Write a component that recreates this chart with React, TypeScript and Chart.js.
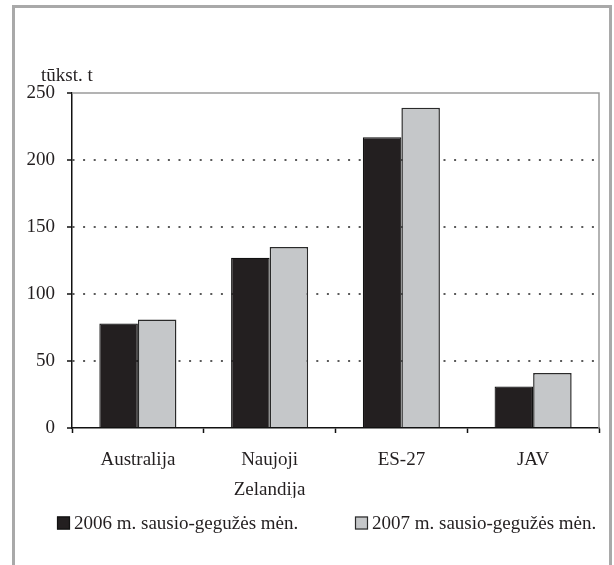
import React, { useEffect, useRef } from "react";
import { Chart, registerables } from "chart.js";

Chart.register(...registerables);

const categories: (string | string[])[] = ["Australija", ["Naujoji", "Zelandija"], "ES-27", "JAV"];
const series2006Label = "2006 m. sausio-gegužės mėn.";
const series2007Label = "2007 m. sausio-gegužės mėn.";
const values2006 = [78, 127, 217, 31];
const values2007 = [81, 135, 239, 41];
const yUnit = "tūkst. t";
const yMin = 0;
const yMax = 250;
const yStep = 50;

const FONT = "'Liberation Serif', 'Times New Roman', serif";
const TEXT = "#231f20";

const framePlugin = {
  id: "frame",
  beforeDatasetsDraw(chart: any) {
    const { ctx, chartArea } = chart;
    ctx.save();
    ctx.strokeStyle = "#9a9a9a";
    ctx.lineWidth = 1.5;
    ctx.beginPath();
    ctx.moveTo(chartArea.left, chartArea.top);
    ctx.lineTo(chartArea.right, chartArea.top);
    ctx.lineTo(chartArea.right, chartArea.bottom);
    ctx.stroke();
    ctx.restore();
  },
  afterDraw(chart: any) {
    const { ctx } = chart;
    ctx.save();
    ctx.font = `19px ${FONT}`;
    ctx.fillStyle = TEXT;
    ctx.textBaseline = "middle";
    ctx.textAlign = "left";
    ctx.fillText(yUnit, 41, 76);
    // legend
    const pos = [57, 355];
    chart.data.datasets.forEach((ds: any, i: number) => {
      const x = pos[i];
      const y = 523;
      ctx.fillStyle = ds.backgroundColor;
      ctx.fillRect(x, y - 6.5, 13, 13);
      ctx.strokeStyle = ds.borderColor;
      ctx.lineWidth = 1.2;
      ctx.strokeRect(x + 0.5, y - 6, 12, 12);
      ctx.fillStyle = TEXT;
      ctx.fillText(ds.label, x + 17, y + 1);
    });
    ctx.restore();
  },
};

export default function App() {
  const ref = useRef<HTMLCanvasElement | null>(null);
  useEffect(() => {
    if (!ref.current) return;
    const chart = new Chart(ref.current, {
      type: "bar",
      data: {
        labels: categories as any,
        datasets: [
          {
            label: series2006Label,
            data: values2006,
            backgroundColor: "#231f20",
            borderColor: "#111111",
            borderWidth: 1.2,
            categoryPercentage: 0.585,
            barPercentage: 1,
          },
          {
            label: series2007Label,
            data: values2007,
            backgroundColor: "#c5c7c9",
            borderColor: "#2a2a2a",
            borderWidth: 1.5,
            categoryPercentage: 0.585,
            barPercentage: 1,
          },
        ],
      },
      options: {
        responsive: false,
        animation: false,
        devicePixelRatio: 1,
        layout: { padding: { left: 26, right: 15, top: 93, bottom: 67 } },
        plugins: {
          legend: { display: false },
          tooltip: { enabled: false },
          title: { display: false },
        },
        scales: {
          x: {
            offset: true,
            grid: {
              offset: true,
              drawOnChartArea: false,
              drawTicks: true,
              tickLength: 5,
              tickColor: "#111",
              tickWidth: 1.5,
            },
            border: { display: true, color: "#111", width: 1.5 },
            ticks: {
              color: TEXT,
              padding: 12,
              maxRotation: 0,
              autoSkip: false,
              font: { family: FONT, size: 19, lineHeight: 1.58 },
            },
            afterFit(scale: any) {
              scale.height = 70;
            },
          },
          y: {
            min: yMin,
            max: yMax,
            ticks: {
              stepSize: yStep,
              color: TEXT,
              padding: 12,
              font: { family: FONT, size: 19 },
            },
            grid: {
              color: (c: any) =>
                c.tick && (c.tick.value === yMax || c.tick.value === yMin) ? "rgba(0,0,0,0)" : "#5a5a5a",
              lineWidth: 2,
              drawTicks: true,
              tickLength: 5,
              tickColor: "#111",
              tickWidth: 1.5,
              tickBorderDash: [],
            },
            border: { display: true, color: "#111", width: 1.5, dash: [2, 8.6] },
            afterFit(scale: any) {
              scale.width = 46;
            },
          },
        },
      },
      plugins: [framePlugin],
    });
    return () => chart.destroy();
  }, []);

  return (
    <div
      style={{
        position: "absolute",
        left: 0,
        top: 0,
        width: 614,
        height: 565,
        overflow: "hidden",
        background: "#ffffff",
      }}
    >
      <div
        style={{
          position: "absolute",
          left: 12,
          top: 5,
          width: 594,
          height: 620,
          border: "3px solid #a9a9a9",
        }}
      />
      <canvas ref={ref} width={614} height={565} style={{ position: "absolute", left: 0, top: 0, width: 614, height: 565 }} />
    </div>
  );
}
